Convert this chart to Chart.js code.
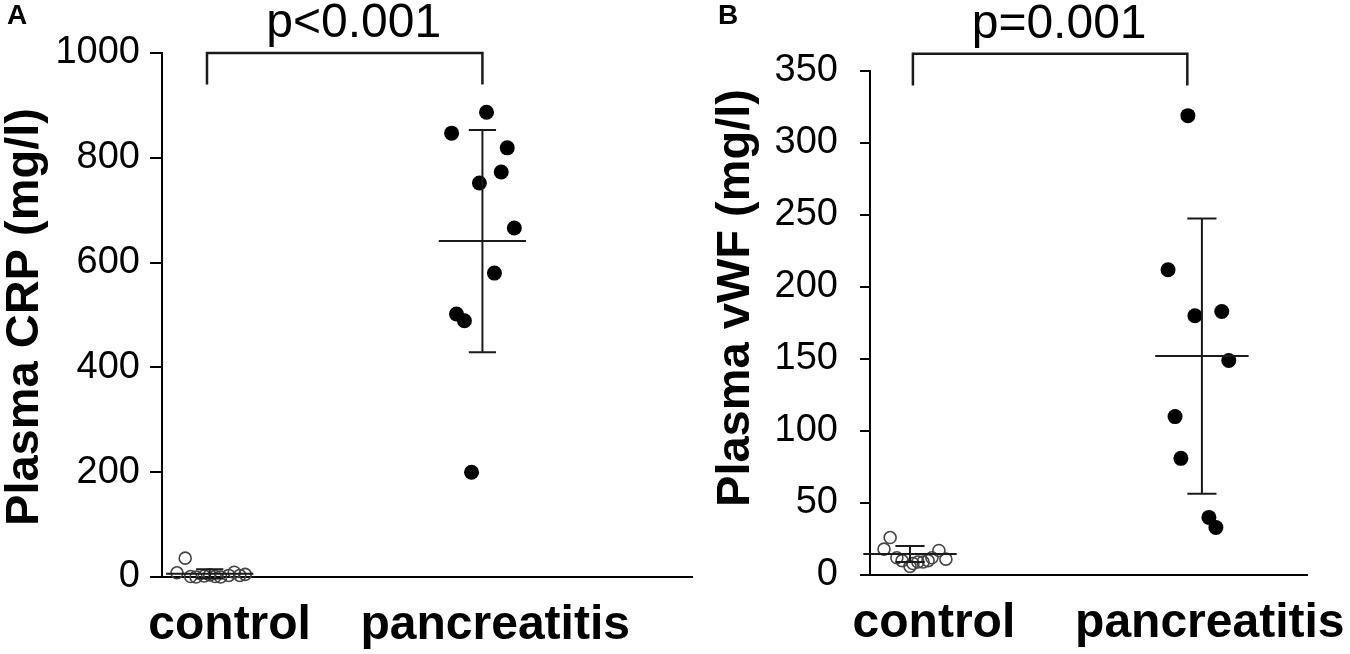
<!DOCTYPE html>
<html>
<head>
<meta charset="utf-8">
<script src="https://cdn.jsdelivr.net/npm/chart.js@4.4.1/dist/chart.umd.min.js"></script>
<style>
html, body { margin: 0; padding: 0; background: #fff; }
#wrap { position: relative; width: 1350px; height: 654px; overflow: hidden; }
.panel { position: absolute; top: 0; height: 654px; }
#pa { left: 0; width: 700px; }
#pb { left: 700px; width: 650px; }
.tag { position: absolute; top: -1px; font: bold 28px 'Liberation Sans', Arial, sans-serif; color: #000; }
</style>
</head>
<body>
<div id="wrap">
  <div class="panel" id="pa"><canvas id="crp_chart"></canvas></div>
  <div class="panel" id="pb"><canvas id="vwf_chart"></canvas></div>
  <div class="tag" style="left:7px">A</div>
  <div class="tag" style="left:718px">B</div>
</div>
<script>
var categories = ['control', 'pancreatitis'];

// A: plasma CRP (mg/l)
var crpControl = [36, 8, 1, 0, 2, 4, 1, 0, 3, 9, 3, 5];
var crpControlJitter = [-0.09, -0.12, -0.07, -0.05, -0.02, 0, 0.02, 0.04, 0.07, 0.09, 0.11, 0.13];
var crpPanc = [887, 847, 819, 773, 752, 666, 580, 502, 489, 200];
var crpPancJitter = [0.015, -0.113, 0.091, 0.069, -0.011, 0.117, 0.044, -0.095, -0.066, -0.04];
var crpMean = [6, 641];
var crpSd = [9, 212];
var crpTicks = [0, 200, 400, 600, 800, 1000];

// B: plasma vWF (mg/l)
var vwfControl = [26, 18, 12, 10, 6, 8, 9, 9, 10, 12, 17, 11];
var vwfControlJitter = [-0.068, -0.089, -0.045, -0.027, 0, 0.01, 0.027, 0.045, 0.062, 0.075, 0.099, 0.123];
var vwfPanc = [319, 212, 180, 183, 149, 110, 81, 40, 33];
var vwfPancJitter = [-0.048, -0.116, -0.024, 0.068, 0.092, -0.092, -0.072, 0.024, 0.048];
var vwfMean = [14.6, 152];
var vwfSd = [5.5, 95.5];
var vwfTicks = [0, 50, 100, 150, 200, 250, 300, 350];

var FONT = "'Liberation Sans', Arial, sans-serif";
Chart.defaults.font.family = FONT;
Chart.defaults.color = '#000';

// p value text above the bracket, and the rotated y title
var annot = {
    id: 'annot',
    afterDraw: function (chart, args, opts) {
        var c = chart.ctx;
        var area = chart.chartArea;
        var x = chart.scales.x.getPixelForValue((opts.x0 + opts.x1) / 2) + opts.textShift;
        var y = chart.scales.y.getPixelForValue(opts.y) - 16;
        c.save();
        c.fillStyle = '#000';
        c.font = '48px ' + FONT;
        c.textAlign = 'center';
        c.textBaseline = 'alphabetic';
        c.fillText(opts.text, x, y);
        c.translate(opts.titleX, (area.top + area.bottom) / 2 + opts.titleDy);
        c.rotate(-Math.PI / 2);
        c.font = 'bold 47px ' + FONT;
        c.textBaseline = 'middle';
        c.fillText(opts.title, 0, 0);
        c.restore();
    }
};

function points(values, jitter, cat) {
    return values.map(function (v, i) { return { x: cat + jitter[i], y: v }; });
}

function errorBar(cat, m, s) {
    return [
        { x: cat - 0.16, y: m }, { x: cat + 0.16, y: m }, { x: cat, y: null },
        { x: cat, y: m - s }, { x: cat, y: m + s }, { x: cat, y: null },
        { x: cat - 0.05, y: m + s }, { x: cat + 0.05, y: m + s }, { x: cat, y: null },
        { x: cat - 0.05, y: m - s }, { x: cat + 0.05, y: m - s }
    ];
}

function makeChart(id, p) {
    var lineStyle = { type: 'line', borderColor: '#1a1a1a', borderWidth: 2, pointRadius: 0, spanGaps: false, clip: false, fill: false };
    return new Chart(document.getElementById(id), {
        type: 'scatter',
        data: {
            datasets: [
                Object.assign({ data: errorBar(1, p.mean[0], p.sd[0]) }, lineStyle),
                Object.assign({ data: errorBar(2, p.mean[1], p.sd[1]) }, lineStyle),
                Object.assign({ data: [
                    { x: p.bx[0], y: p.by[1] }, { x: p.bx[0], y: p.by[0] },
                    { x: p.bx[1], y: p.by[0] }, { x: p.bx[1], y: p.by[1] }
                ] }, lineStyle, { borderWidth: 2.5 }),
                {
                    label: categories[1],
                    data: points(p.panc, p.pancJitter, 2),
                    pointRadius: 7.5,
                    backgroundColor: '#000',
                    borderColor: '#000',
                    borderWidth: 0,
                    clip: false
                },
                {
                    label: categories[0],
                    data: points(p.control, p.controlJitter, 1),
                    pointRadius: 6,
                    backgroundColor: 'rgba(0,0,0,0)',
                    borderColor: '#444',
                    borderWidth: 1.6,
                    clip: false
                }
            ]
        },
        options: {
            responsive: true,
            maintainAspectRatio: false,
            animation: false,
            layout: { padding: { top: p.top, right: p.right, left: 0, bottom: 0 } },
            plugins: {
                legend: { display: false },
                tooltip: { enabled: false },
                annot: {
                    text: p.pText, x0: p.bx[0], x1: p.bx[1], y: p.by[0], textShift: 9,
                    title: p.yTitle, titleX: p.titleX, titleDy: p.titleDy
                }
            },
            scales: {
                x: {
                    type: 'linear',
                    min: p.xMin,
                    max: p.xMax,
                    // category labels sit a little right of the point clouds
                    afterBuildTicks: function (s) { s.ticks = p.labelAt.map(function (v) { return { value: v }; }); },
                    afterFit: function (s) { s.height = p.xHeight; s.paddingLeft = 0; s.paddingRight = 0; },
                    grid: { display: false, drawTicks: false },
                    border: { display: true, color: '#000', width: 2 },
                    ticks: {
                        callback: function (v, i) { return categories[i]; },
                        font: { size: 48, weight: 'bold' },
                        color: '#000',
                        padding: 20,
                        maxRotation: 0,
                        autoSkip: false
                    }
                },
                y: {
                    min: 0,
                    max: p.ticks[p.ticks.length - 1],
                    afterBuildTicks: function (s) { s.ticks = p.ticks.map(function (v) { return { value: v }; }); },
                    afterFit: function (s) { s.width = p.yWidth; },
                    grid: { drawOnChartArea: false, drawTicks: true, tickLength: p.tickLen, color: '#000', lineWidth: 2 },
                    border: { display: true, color: '#000', width: 2 },
                    ticks: {
                        callback: function (v) { return String(v); },
                        font: { size: 38 },
                        color: '#000',
                        padding: p.tickPad
                    }
                }
            }
        },
        plugins: [annot]
    });
}

var crp_chart = makeChart('crp_chart', {
    yTitle: 'Plasma CRP (mg/l)',
    control: crpControl, controlJitter: crpControlJitter,
    panc: crpPanc, pancJitter: crpPancJitter,
    mean: crpMean, sd: crpSd, ticks: crpTicks,
    xMin: 0.825, xMax: 2.77, labelAt: [1.073, 2.047],
    bx: [0.99, 2.0], by: [1000, 940],
    pText: 'p<0.001',
    top: 53, right: 5, yWidth: 162, xHeight: 77,
    tickLen: 12, tickPad: 10, titleX: 25, titleDy: 2
});

var vwf_chart = makeChart('vwf_chart', {
    yTitle: 'Plasma vWF (mg/l)',
    control: vwfControl, controlJitter: vwfControlJitter,
    panc: vwfPanc, pancJitter: vwfPancJitter,
    mean: vwfMean, sd: vwfSd, ticks: vwfTicks,
    xMin: 0.863, xMax: 2.36, labelAt: [1.082, 2.027],
    bx: [1.01, 1.95], by: [362, 340],
    pText: 'p=0.001',
    top: 71, right: 43, yWidth: 170, xHeight: 79,
    tickLen: 10, tickPad: 22, titleX: 36, titleDy: -25
});
</script>
</body>
</html>
